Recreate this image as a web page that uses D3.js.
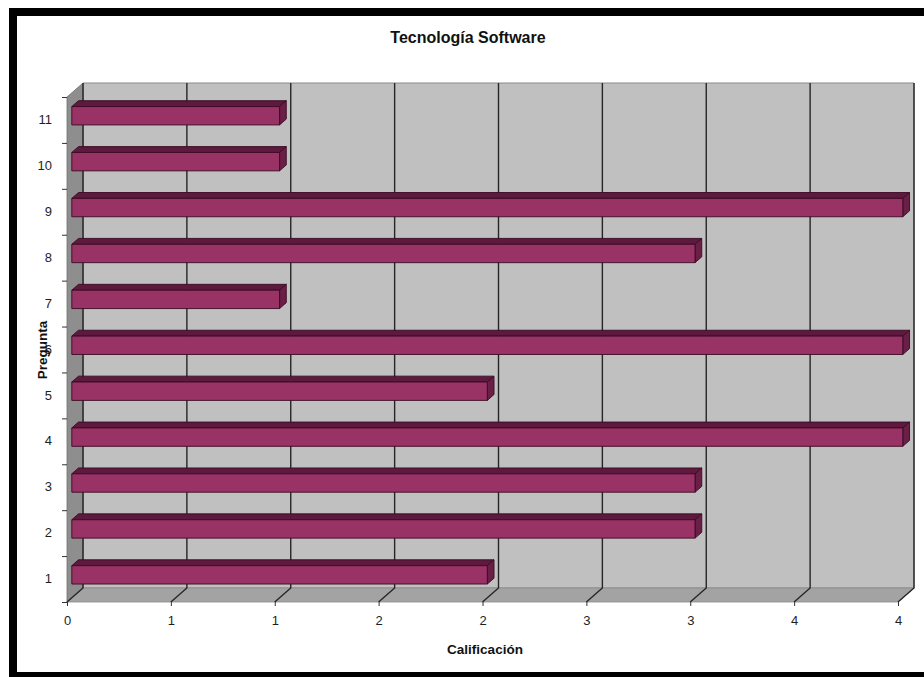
<!DOCTYPE html>
<html>
<head>
<meta charset="utf-8">
<script src="https://cdn.jsdelivr.net/npm/d3@7"></script>
<style>
  html, body { margin: 0; padding: 0; background: #fff; }
  svg { display: block; font-family: Arial, "Liberation Sans", sans-serif; }
</style>
</head>
<body>
<svg id="chart" width="924" height="677"></svg>
<script>
// Questions and their scores
const categories = ["1", "2", "3", "4", "5", "6", "7", "8", "9", "10", "11"];
const values = [2, 3, 3, 4, 2, 4, 1, 3, 4, 1, 1];
// Value axis: gridlines every half point, labels rounded as shown
const xTickValues = [0, 0.5, 1, 1.5, 2, 2.5, 3, 3.5, 4];
const xTickLabels = ["0", "1", "1", "2", "2", "3", "3", "4", "4"];

const title = "Tecnología Software";
const xTitle = "Calificación";
const yTitle = "Pregunta";

const svg = d3.select("#chart");
const FONT = "Arial, 'Liberation Sans', sans-serif";

// Front plane of the 3D box
const plotLeft = 67, plotRight = 898, plotBottom = 602, plotTop = 97;
// Depth offset of the back wall
const DX = 16, DY = -14;
// Bars occupy this slice of the depth
const barD0 = 0.3, barD1 = 0.72;

const x = d3.scaleLinear().domain([0, 4]).range([plotLeft, plotRight]);
const y = d3.scaleBand().domain(categories).range([plotBottom, plotTop]).paddingInner(0).paddingOuter(0);
const yLin = d3.scaleLinear().domain([0, categories.length]).range([plotBottom, plotTop]);

// Black frame
svg.append("rect").attr("x", 9).attr("y", 8).attr("width", 924).attr("height", 8).attr("fill", "#000");
svg.append("rect").attr("x", 9).attr("y", 8).attr("width", 8).attr("height", 677).attr("fill", "#000");
svg.append("rect").attr("x", 9).attr("y", 672).attr("width", 924).attr("height", 8).attr("fill", "#000");

// Walls and floor
const pts = a => a.map(p => p.join(",")).join(" ");
svg.append("polygon")
  .attr("points", pts([[x(0) + DX, plotBottom + DY], [x(4) + DX, plotBottom + DY], [x(4) + DX, plotTop + DY], [x(0) + DX, plotTop + DY]]))
  .attr("fill", "#c0c0c0").attr("stroke", "#8a8a8a").attr("stroke-width", 1);
svg.append("polygon")
  .attr("points", pts([[x(0), plotBottom], [x(0) + DX, plotBottom + DY], [x(0) + DX, plotTop + DY], [x(0), plotTop]]))
  .attr("fill", "#8e8e8e").attr("stroke", "#707070").attr("stroke-width", 0.8);
svg.append("polygon")
  .attr("points", pts([[x(0), plotBottom], [x(4), plotBottom], [x(4) + DX, plotBottom + DY], [x(0) + DX, plotBottom + DY]]))
  .attr("fill", "#a3a3a3").attr("stroke", "#8a8a8a").attr("stroke-width", 0.8);

// Gridlines on the back wall and down across the floor
const grid = svg.append("g").attr("fill", "none").attr("stroke", "#262626").attr("stroke-width", 1.4);
xTickValues.forEach(v => {
  grid.append("polyline")
    .attr("points", pts([[x(v) + DX, plotTop + DY], [x(v) + DX, plotBottom + DY], [x(v), plotBottom]]));
});

// Bars, drawn from the top one down so lower bars overlap correctly
const bars = svg.append("g");
const order = categories.map((c, i) => i).reverse();
order.forEach(i => {
  const c = categories[i], v = values[i];
  const bw = y.bandwidth();
  const fx = DX * barD0, fy = DY * barD0;
  const bx = DX * barD1, by = DY * barD1;
  const y0 = y(c) + bw * 0.3 + fy, y1 = y(c) + bw * 0.7 + fy;
  const x0 = x(0) + fx, x1 = x(v) + fx;
  const ddx = bx - fx, ddy = by - fy;
  const g = bars.append("g").attr("stroke", "#3a0a22").attr("stroke-width", 0.9).attr("stroke-linejoin", "round");
  // top face
  g.append("polygon").attr("points", pts([[x0, y0], [x1, y0], [x1 + ddx, y0 + ddy], [x0 + ddx, y0 + ddy]]))
    .attr("fill", "#5e1a3e");
  // end face
  g.append("polygon").attr("points", pts([[x1, y0], [x1 + ddx, y0 + ddy], [x1 + ddx, y1 + ddy], [x1, y1]]))
    .attr("fill", "#6a1f47");
  // front face
  g.append("rect").attr("x", x0).attr("y", y0).attr("width", x1 - x0).attr("height", y1 - y0)
    .attr("fill", "#993366");
});

// Value axis labels
const xAxis = d3.axisBottom(x)
  .tickValues(xTickValues)
  .tickFormat((d, i) => xTickLabels[i])
  .tickSize(4).tickPadding(10);
const gx = svg.append("g").attr("transform", `translate(0,${plotBottom})`).call(xAxis);
gx.attr("font-size", null).attr("font-family", null);
gx.select(".domain").remove();
gx.selectAll(".tick line").attr("stroke", "#333");
gx.selectAll("text").style("font-size", "13px").attr("fill", "#1e1e1e").style("font-family", FONT);

// Category boundary ticks
const gyt = svg.append("g").attr("transform", `translate(${plotLeft},0)`)
  .call(d3.axisLeft(yLin).tickValues(d3.range(0, categories.length + 1)).tickSize(5).tickFormat(""));
gyt.select(".domain").remove();
gyt.selectAll(".tick line").attr("stroke", "#333");

// Category labels
const gy = svg.append("g").attr("transform", `translate(${plotLeft},0)`)
  .call(d3.axisLeft(y).tickSize(0).tickPadding(15));
gy.attr("font-size", null).attr("font-family", null);
gy.select(".domain").remove();
gy.selectAll("text").style("font-size", "13px").attr("fill", "#1e1e1e").style("font-family", FONT);

// Titles
svg.append("text").attr("x", 468).attr("y", 43).attr("text-anchor", "middle")
  .style("font-size", "16px").attr("font-weight", "bold").attr("fill", "#111").text(title);
svg.append("text").attr("x", 485).attr("y", 654).attr("text-anchor", "middle")
  .style("font-size", "13.5px").attr("font-weight", "bold").attr("fill", "#111").text(xTitle);
svg.append("text").attr("transform", "translate(47,350) rotate(-90)").attr("text-anchor", "middle")
  .style("font-size", "13.5px").attr("font-weight", "bold").attr("fill", "#111").text(yTitle);
</script>
</body>
</html>
